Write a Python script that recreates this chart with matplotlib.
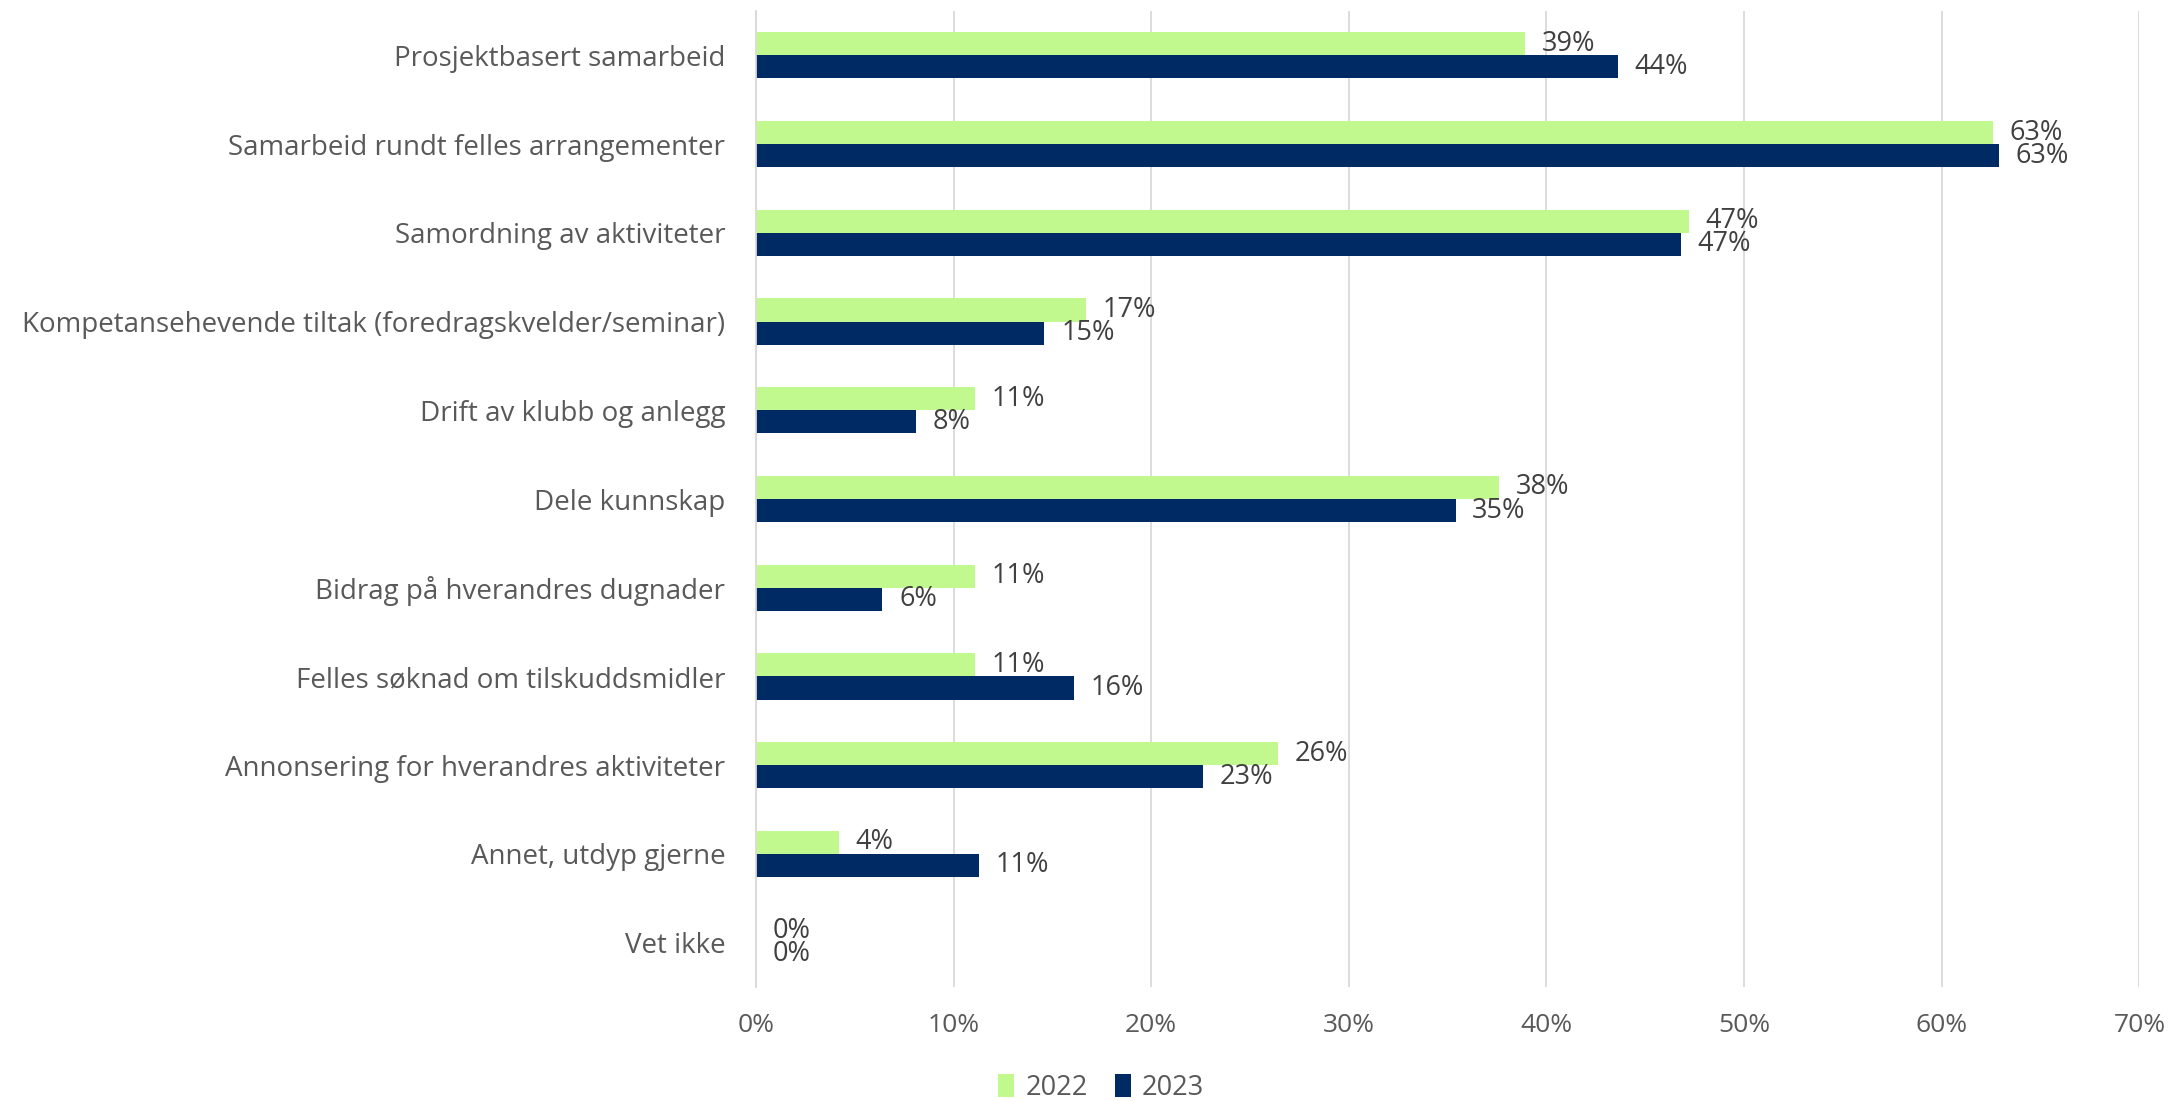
import matplotlib
matplotlib.use("Agg")
import matplotlib.pyplot as plt
import numpy as np

# categories, top to bottom
categories = [
    "Prosjektbasert samarbeid",
    "Samarbeid rundt felles arrangementer",
    "Samordning av aktiviteter",
    "Kompetansehevende tiltak (foredragskvelder/seminar)",
    "Drift av klubb og anlegg",
    "Dele kunnskap",
    "Bidrag på hverandres dugnader",
    "Felles søknad om tilskuddsmidler",
    "Annonsering for hverandres aktiviteter",
    "Annet, utdyp gjerne",
    "Vet ikke",
]
# percent values
values_2022 = [38.9, 62.6, 47.2, 16.7, 11.1, 37.6, 11.1, 11.1, 26.4, 4.2, 0.0]
values_2023 = [43.6, 62.9, 46.8, 14.6, 8.1, 35.4, 6.4, 16.1, 22.6, 11.3, 0.0]
series_names = ["2022", "2023"]
xticks = [0, 10, 20, 30, 40, 50, 60, 70]

green = "#C2F98E"
navy = "#002A64"
grey = "#595959"

plt.rcParams['font.family'] = ['Open Sans', 'DejaVu Sans']

fig = plt.figure(figsize=(21.72, 11.01), dpi=100)
ax = fig.add_axes([0.348, 0.1035, 0.637, 0.8865])

y = np.arange(len(categories))
h = 0.26
b1 = ax.barh(y - h / 2, values_2022, height=h, color=green, label=series_names[0], zorder=2)
b2 = ax.barh(y + h / 2, values_2023, height=h, color=navy, label=series_names[1], zorder=2)

# data labels at the end of each bar
for bars in (b1, b2):
    for rect in bars:
        v = rect.get_width()
        ax.annotate("{:.0f}%".format(v), (v, rect.get_y() + rect.get_height() / 2),
                    xytext=(12, 0), textcoords="offset points",
                    ha="left", va="center", fontsize=19.5, color="#404040")

ax.set_ylim(len(categories) - 0.5, -0.5)
ax.set_xlim(0, 70)
ax.set_yticks(y)
ax.set_yticklabels(categories, fontsize=20, color=grey)
ax.set_xticks(xticks)
ax.set_xticklabels(["{}%".format(t) for t in xticks], fontsize=19, color=grey)
ax.tick_params(axis="y", length=0, pad=22)
ax.tick_params(axis="x", length=0, pad=19)

ax.grid(axis="x", color="#D9D9D9", linewidth=1.3, zorder=0)
for s in ["top", "right", "bottom"]:
    ax.spines[s].set_visible(False)
ax.spines["left"].set_color("#D9D9D9")
ax.spines["left"].set_linewidth(1.3)

ax.legend(loc="center", bbox_to_anchor=(1101 / 2172, 13 / 1101),
          bbox_transform=fig.transFigure, ncol=2, frameon=False,
          fontsize=19.5, labelcolor=grey, handlelength=0.6, handleheight=0.9,
          handletextpad=0.4, columnspacing=1.0)

fig.savefig("out.png", dpi=100)
